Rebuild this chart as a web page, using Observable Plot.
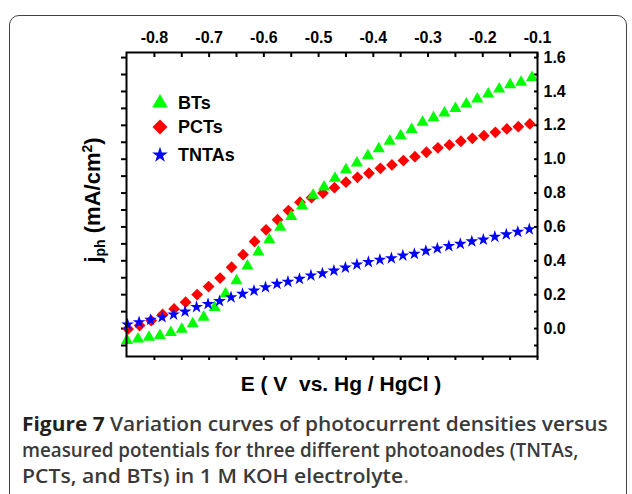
<!DOCTYPE html>
<html>
<head>
<meta charset="utf-8">
<script src="https://cdn.jsdelivr.net/npm/d3@7"></script>
<script src="https://cdn.jsdelivr.net/npm/@observablehq/plot@0.6"></script>
<style>
html, body { margin: 0; padding: 0; background: #fff; }
body { width: 632px; height: 494px; position: relative; overflow: hidden; font-family: "Liberation Sans", Arial, sans-serif; }
#box { position: absolute; left: 9px; top: 15px; width: 618px; height: 540px; border: 1.5px solid #444; border-radius: 10px; box-sizing: border-box; }
#chart { position: absolute; left: 0; top: 0; }
#caption { position: absolute; left: 22px; top: 411px; font-family: "Open Sans", sans-serif; font-size: 19px; line-height: 26px; color: #3a3a3a; font-weight: 600; white-space: nowrap; }
#caption .line { display: block; transform-origin: 0 0; }
#caption .l1 { transform: scaleX(1.1); }
#caption .l2 { transform: scaleX(0.99); }
#caption .l3 { transform: scaleX(1.115); }
#caption b { color: #231f20; font-weight: 700; }
#caption .dot { color: #888; }
</style>
</head>
<body>
<div id="box"></div>
<div id="chart"></div>
<div id="caption"><span class="line l1"><b>Figure 7</b> Variation curves of photocurrent densities versus</span><span class="line l2">measured potentials for three different photoanodes (TNTAs,</span><span class="line l3">PCTs, and BTs) in 1 M KOH electrolyte<span class="dot">.</span></span></div>
<script>
// ---- data ----
const seriesNames = ["BTs", "PCTs", "TNTAs"];
const seriesColors = ["#00ff00", "#ff0000", "#0000ff"];
const seriesSymbols = ["triangle", "diamond2", "star"];

const xBTs = [-0.85,-0.83,-0.81,-0.79,-0.77,-0.75,-0.73,-0.71,-0.69,-0.67,-0.65,-0.63,-0.61,-0.59,-0.57,-0.55,-0.53,-0.51,-0.49,-0.47,-0.45,-0.43,-0.41,-0.39,-0.37,-0.35,-0.33,-0.31,-0.29,-0.27,-0.25,-0.23,-0.21,-0.19,-0.17,-0.15,-0.13,-0.11];
const yBTs = [-0.071,-0.061,-0.051,-0.041,-0.024,-0.004,0.028,0.067,0.124,0.205,0.283,0.369,0.452,0.525,0.598,0.661,0.723,0.787,0.836,0.887,0.937,0.978,1.021,1.061,1.106,1.139,1.175,1.218,1.244,1.273,1.300,1.326,1.356,1.385,1.415,1.440,1.454,1.483];

const xPCTs = [-0.848,-0.827,-0.806,-0.785,-0.764,-0.743,-0.722,-0.701,-0.680,-0.659,-0.638,-0.617,-0.596,-0.575,-0.555,-0.534,-0.513,-0.492,-0.471,-0.450,-0.429,-0.408,-0.387,-0.366,-0.345,-0.324,-0.303,-0.282,-0.261,-0.240,-0.219,-0.198,-0.177,-0.156,-0.135,-0.114];
const yPCTs = [-0.002,0.018,0.047,0.083,0.116,0.156,0.201,0.248,0.298,0.362,0.436,0.514,0.583,0.643,0.697,0.746,0.773,0.800,0.832,0.864,0.893,0.917,0.946,0.966,0.992,1.015,1.041,1.067,1.084,1.106,1.123,1.139,1.159,1.179,1.192,1.208];

const xTNTAs = [-0.849,-0.828,-0.807,-0.786,-0.765,-0.744,-0.723,-0.702,-0.681,-0.660,-0.639,-0.618,-0.597,-0.576,-0.556,-0.535,-0.514,-0.493,-0.472,-0.451,-0.430,-0.409,-0.388,-0.367,-0.346,-0.325,-0.304,-0.283,-0.262,-0.241,-0.220,-0.199,-0.178,-0.157,-0.136,-0.115];
const yTNTAs = [0.024,0.037,0.051,0.067,0.083,0.100,0.127,0.145,0.162,0.185,0.205,0.224,0.244,0.264,0.276,0.293,0.313,0.326,0.342,0.360,0.378,0.393,0.406,0.415,0.431,0.441,0.459,0.473,0.487,0.500,0.515,0.525,0.542,0.556,0.571,0.586];

const xMajorTicks = [-0.8,-0.7,-0.6,-0.5,-0.4,-0.3,-0.2,-0.1];
const xMinorTicks = [-0.75,-0.65,-0.55,-0.45,-0.35,-0.25,-0.15];
const yMajorTicks = [0.0,0.2,0.4,0.6,0.8,1.0,1.2,1.4,1.6];
const yMinorTicks = [-0.1,0.1,0.3,0.5,0.7,0.9,1.1,1.3,1.5];

const xLabel = "E ( V  vs. Hg / HgCl )";

// ---- build tables ----
const toRows = (xs, ys) => xs.map((x, i) => ({x, y: ys[i]}));
const bts = toRows(xBTs, yBTs);
const pcts = toRows(xPCTs, yPCTs);
const tntas = toRows(xTNTAs, yTNTAs);

const fmt = d => d.toFixed(1);
const none = () => "";
const tickFont = {fontSize: 16, fontWeight: "bold"};

const plot = Plot.plot({
  width: 632,
  height: 400,
  marginLeft: 126,
  marginRight: 95,
  marginTop: 52,
  marginBottom: 44,
  style: {fontFamily: "'Liberation Sans', Arial, sans-serif", color: "#000", background: "transparent", overflow: "visible"},
  x: {domain: [-0.851, -0.1], label: null},
  y: {domain: [-0.165, 1.63], label: null},
  marks: [
    Plot.axisX(xMajorTicks, {anchor: "top", tickSize: -4, tickPadding: 14, tickFormat: fmt, strokeWidth: 2, label: null, ...tickFont}),
    Plot.axisX(xMinorTicks, {anchor: "top", tickSize: -4, tickFormat: none, strokeWidth: 2, label: null}),
    Plot.axisX([...xMajorTicks, ...xMinorTicks], {anchor: "bottom", tickSize: 4, tickFormat: none, strokeWidth: 2, label: null}),
    Plot.axisY([...yMajorTicks, ...yMinorTicks], {anchor: "left", tickSize: 5, tickFormat: none, strokeWidth: 2, label: null}),
    Plot.axisY(yMajorTicks, {anchor: "right", tickSize: -4, tickPadding: 10, tickFormat: fmt, strokeWidth: 2, label: null, ...tickFont}),
    Plot.axisY(yMinorTicks, {anchor: "right", tickSize: -4, tickFormat: none, strokeWidth: 2, label: null}),
    Plot.dot(pcts, {x: "x", y: "y", symbol: seriesSymbols[1], fill: seriesColors[1], r: 5.3}),
    Plot.dot(bts, {x: "x", y: "y", symbol: seriesSymbols[0], fill: seriesColors[0], r: 4.5}),
    Plot.dot(tntas, {x: "x", y: "y", symbol: seriesSymbols[2], fill: seriesColors[2], r: 4.0}),
    Plot.frame({stroke: "#000", strokeWidth: 2})
  ]
});

document.getElementById("chart").appendChild(plot);

// ---- extra text: axis labels and legend ----
const svg = d3.select(plot);

svg.append("text")
  .attr("x", 341).attr("y", 391)
  .attr("text-anchor", "middle")
  .attr("font-size", 21).attr("font-weight", "bold")
  .attr("fill", "#000")
  .style("white-space", "pre")
  .text(xLabel);

const yl = svg.append("text")
  .attr("transform", "translate(100,200) rotate(-90)")
  .attr("text-anchor", "middle")
  .attr("font-size", 22).attr("font-weight", "bold")
  .attr("fill", "#000");
yl.append("tspan").text("j");
yl.append("tspan").attr("font-size", 14).attr("dy", 5).text("ph");
yl.append("tspan").attr("dy", -5).text(" (mA/cm");
yl.append("tspan").attr("font-size", 14).attr("dy", -8).text("2");
yl.append("tspan").attr("dy", 8).text(")");

const legendY = [103, 127, 155];
const legendSizes = [106, 143, 76];
const symbolMap = {triangle: d3.symbolTriangle, diamond2: d3.symbolDiamond2, star: d3.symbolStar};
const lg = svg.append("g");
seriesNames.forEach((name, i) => {
  lg.append("path")
    .attr("transform", `translate(160,${legendY[i]})`)
    .attr("d", d3.symbol(symbolMap[seriesSymbols[i]], legendSizes[i])())
    .attr("fill", seriesColors[i]);
  lg.append("text")
    .attr("x", 178).attr("y", legendY[i])
    .attr("dy", "0.36em")
    .attr("text-anchor", "start")
    .attr("font-size", 18).attr("font-weight", "bold")
    .attr("fill", "#000")
    .text(name);
});
</script>
</body>
</html>
